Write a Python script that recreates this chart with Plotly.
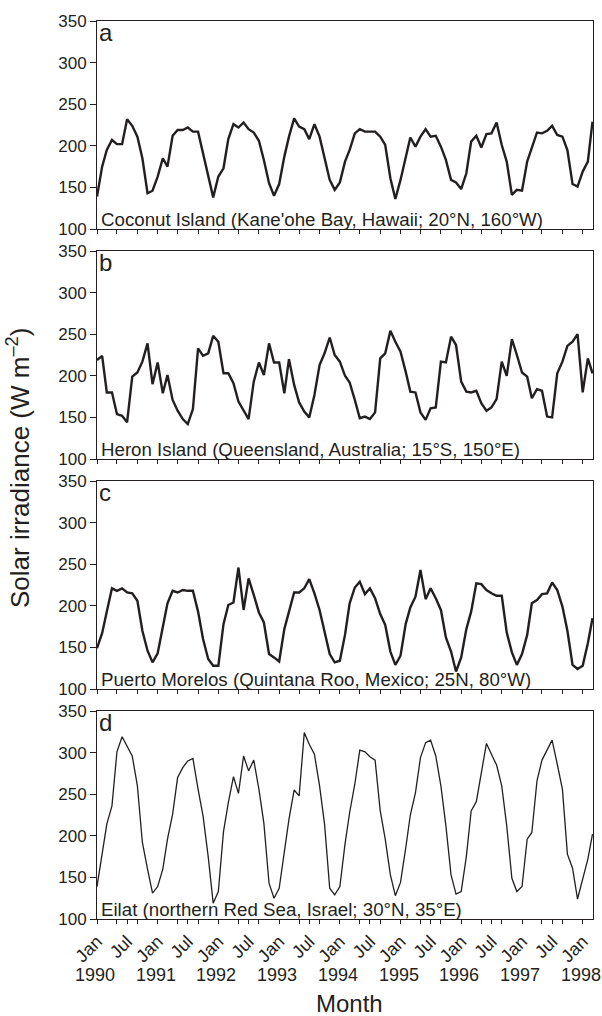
import pandas as pd
import plotly.graph_objects as go

months = pd.date_range("1990-01-01", periods=99, freq="MS")

coconut = [139, 175, 195, 207, 202, 202, 232, 224, 211, 185, 143, 146, 163, 185, 175, 212, 219, 219, 222, 217,
           217, 191, 167, 138, 163, 173, 208, 226, 222, 228, 220, 216, 206, 183, 155, 140, 154, 187, 211, 233,
           223, 220, 208, 226, 211, 187, 159, 147, 156, 181, 195, 215, 220, 217, 217, 217, 211, 201, 161, 136,
           159, 185, 210, 199, 211, 220, 211, 212, 199, 183, 159, 156, 148, 167, 205, 212, 198, 214, 215, 228,
           201, 181, 141, 147, 146, 181, 197, 216, 215, 218, 224, 213, 211, 195, 154, 151, 169, 181, 229]

heron = [219, 224, 180, 180, 154, 152, 144, 199, 204, 217, 239, 190, 216, 179, 201, 171, 158, 148, 142, 160,
         233, 224, 227, 248, 241, 203, 203, 191, 169, 158, 148, 193, 216, 201, 239, 216, 216, 179, 220, 189,
         168, 157, 150, 177, 213, 227, 246, 225, 217, 200, 192, 171, 149, 151, 148, 156, 221, 227, 254, 241,
         229, 205, 181, 180, 156, 147, 161, 162, 217, 216, 247, 237, 193, 181, 180, 182, 167, 158, 162, 172,
         217, 200, 244, 225, 204, 199, 173, 184, 182, 151, 150, 203, 217, 236, 241, 250, 180, 221, 203]

puerto = [149, 167, 193, 221, 218, 221, 216, 215, 206, 170, 146, 132, 143, 175, 203, 218, 216, 219, 218, 218,
          193, 160, 136, 128, 128, 178, 201, 204, 246, 195, 233, 213, 192, 180, 142, 138, 133, 172, 193, 216,
          216, 221, 232, 215, 195, 168, 142, 132, 134, 165, 203, 222, 229, 214, 221, 209, 190, 177, 145, 129,
          140, 178, 198, 211, 243, 208, 221, 209, 195, 162, 145, 121, 138, 172, 193, 227, 226, 219, 215, 212,
          212, 168, 144, 129, 142, 165, 203, 207, 214, 215, 228, 219, 199, 170, 129, 124, 128, 155, 185]

eilat = [139, 178, 214, 236, 301, 319, 308, 296, 260, 192, 160, 131, 139, 160, 196, 226, 270, 282, 290, 293,
         256, 224, 175, 119, 133, 205, 240, 271, 251, 296, 278, 291, 256, 215, 143, 125, 137, 180, 220, 255,
         248, 324, 310, 298, 260, 214, 137, 129, 139, 190, 228, 262, 303, 301, 295, 291, 230, 196, 153, 128,
         144, 185, 225, 252, 294, 312, 315, 296, 260, 212, 153, 130, 133, 175, 230, 241, 278, 311, 298, 285,
         260, 212, 149, 133, 139, 196, 204, 266, 291, 304, 315, 286, 256, 178, 161, 124, 147, 172, 202]

panel_letters = ["a", "b", "c", "d"]
site_names = [
    "Coconut Island (Kane'ohe Bay, Hawaii; 20°N, 160°W)",
    "Heron Island (Queensland, Australia; 15°S, 150°E)",
    "Puerto Morelos (Quintana Roo, Mexico; 25N, 80°W)",
    "Eilat (northern Red Sea, Israel; 30°N, 35°E)",
]
series = [coconut, heron, puerto, eilat]
line_widths = [2.4, 2.4, 2.4, 1.3]

y_ticks = [100, 150, 200, 250, 300, 350]
years = list(range(1990, 1999))
jan_jul = pd.date_range("1990-01-01", "1998-01-01", freq="6MS")
jan_jul_text = ["Jan" if d.month == 1 else "Jul" for d in jan_jul]

INK = "#231f20"
FONT = "Liberation Sans, Arial, sans-serif"

W, H = 602, 1016
ML, MR, MT, MB = 97, 9, 21, 97
plot_h = H - MT - MB
panel_px = 208
gap_px = (plot_h - 4 * panel_px) / 3

fig = go.Figure()
x_range = ["1990-01-01", "1998-03-04"]

for i in range(4):
    n = "" if i == 0 else str(i + 1)
    top_px = i * (panel_px + gap_px)
    top = 1 - top_px / plot_h
    bot = 1 - (top_px + panel_px) / plot_h
    fig.add_trace(go.Scatter(
        x=months, y=series[i], mode="lines",
        line=dict(color=INK, width=line_widths[i]),
        xaxis="x" + n, yaxis="y" + n, showlegend=False,
    ))
    xa = dict(
        domain=[0, 1], anchor="y" + n, type="date", range=x_range,
        showline=True, linecolor=INK, linewidth=1, mirror=True,
        showgrid=False, zeroline=False, ticks="outside", ticklen=4,
        tickcolor=INK, tickwidth=1,
    )
    if i < 3:
        xa.update(tickmode="linear", tick0="1990-01-01", dtick="M4", showticklabels=False)
    else:
        xa.update(tickmode="array", tickvals=list(jan_jul), ticktext=jan_jul_text,
                  tickangle=-45, tickfont=dict(family=FONT, size=18, color=INK),
                  minor=dict(tickmode="linear", tick0="1990-01-01", dtick="M4",
                             ticks="outside", ticklen=4, tickcolor=INK, tickwidth=1))
    ya = dict(
        domain=[bot, top], anchor="x" + n, range=[100, 350],
        tickmode="array", tickvals=y_ticks,
        showline=True, linecolor=INK, linewidth=1, mirror=True,
        showgrid=False, zeroline=False, ticks="outside", ticklen=6,
        tickcolor=INK, tickwidth=1,
        tickfont=dict(family=FONT, size=17, color=INK),
    )
    fig.layout["xaxis" + n] = xa
    fig.layout["yaxis" + n] = ya

    fig.add_annotation(
        text=panel_letters[i], xref="x" + n + " domain", yref="y" + n + " domain",
        x=0, y=1, xanchor="left", yanchor="top", showarrow=False,
        xshift=1, yshift=3, borderpad=0,
        font=dict(family=FONT, size=24, color=INK),
    )
    fig.add_annotation(
        text=site_names[i], xref="x" + n + " domain", yref="y" + n + " domain",
        x=0, y=0, xanchor="left", yanchor="bottom", showarrow=False,
        xshift=3, yshift=-2, borderpad=0,
        font=dict(family=FONT, size=18.7, color=INK),
    )

for yr in years:
    fig.add_annotation(
        text=str(yr), xref="x4", yref="paper",
        x=pd.Timestamp(f"{yr}-01-01"), y=(0 - 56) / plot_h,
        xanchor="center", yanchor="middle", showarrow=False, xshift=-2,
        font=dict(family=FONT, size=18, color=INK),
    )

fig.add_annotation(
    text="Month", xref="paper", yref="paper", x=0.51, y=-84 / plot_h,
    xanchor="center", yanchor="middle", showarrow=False,
    font=dict(family=FONT, size=24, color=INK),
)
fig.add_annotation(
    text="Solar irradiance (W m<sup>–2</sup>)", xref="paper", yref="paper",
    x=(18 - ML) / (W - ML - MR), y=(919 - 468) / plot_h,
    xanchor="center", yanchor="middle", textangle=-90, showarrow=False,
    font=dict(family=FONT, size=26, color=INK),
)

fig.update_layout(
    width=W, height=H, margin=dict(l=ML, r=MR, t=MT, b=MB),
    paper_bgcolor="white", plot_bgcolor="white",
)

fig.write_html("out.html")
